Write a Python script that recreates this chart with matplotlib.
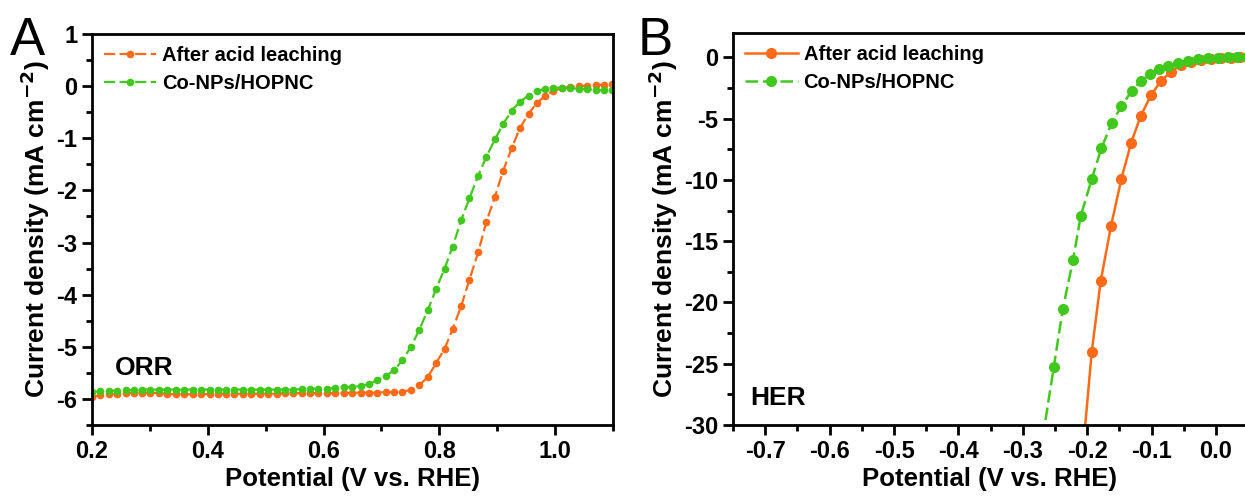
import numpy as np
import matplotlib
matplotlib.use('Agg')
import matplotlib.pyplot as plt
from matplotlib.ticker import MultipleLocator

plt.rcParams['font.family'] = ['Liberation Sans', 'DejaVu Sans']
plt.rcParams['font.weight'] = 'bold'
plt.rcParams['mathtext.default'] = 'bf'

ORANGE = '#ff6a17'
GREEN = '#41c81c'
labels = ['After acid leaching', 'Co-NPs/HOPNC']

# Panel A: ORR polarisation curves
orr_v = [0.200, 0.214, 0.229, 0.243, 0.258, 0.272, 0.287, 0.301, 0.316, 0.330,
         0.345, 0.359, 0.374, 0.388, 0.403, 0.417, 0.432, 0.446, 0.461, 0.475,
         0.490, 0.504, 0.519, 0.533, 0.548, 0.562, 0.577, 0.591, 0.606, 0.620,
         0.635, 0.649, 0.664, 0.678, 0.693, 0.707, 0.722, 0.736, 0.751, 0.765,
         0.780, 0.794, 0.809, 0.823, 0.838, 0.852, 0.867, 0.881, 0.896, 0.910,
         0.925, 0.939, 0.954, 0.968, 0.983, 0.997, 1.012, 1.026, 1.041, 1.055,
         1.070, 1.084, 1.099]
orr_acid = [-5.96, -5.93, -5.91, -5.90, -5.89, -5.88, -5.88, -5.88, -5.89, -5.90,
            -5.91, -5.91, -5.91, -5.91, -5.90, -5.90, -5.90, -5.90, -5.90, -5.90,
            -5.90, -5.90, -5.90, -5.89, -5.89, -5.89, -5.89, -5.89, -5.89, -5.89,
            -5.89, -5.88, -5.88, -5.88, -5.88, -5.87, -5.87, -5.86, -5.83, -5.74,
            -5.58, -5.32, -5.04, -4.66, -4.21, -3.71, -3.19, -2.61, -2.12, -1.63,
            -1.19, -0.81, -0.53, -0.33, -0.18, -0.09, -0.04, -0.01, 0.00, 0.01,
            0.02, 0.03, 0.04]
orr_co = [-5.87, -5.85, -5.84, -5.84, -5.83, -5.83, -5.82, -5.82, -5.82, -5.82,
          -5.82, -5.82, -5.82, -5.82, -5.82, -5.82, -5.82, -5.82, -5.82, -5.82,
          -5.82, -5.82, -5.82, -5.82, -5.82, -5.81, -5.81, -5.80, -5.80, -5.79,
          -5.78, -5.77, -5.75, -5.72, -5.64, -5.56, -5.45, -5.26, -5.00, -4.68,
          -4.30, -3.90, -3.50, -3.08, -2.56, -2.15, -1.72, -1.36, -1.02, -0.73,
          -0.47, -0.30, -0.18, -0.10, -0.05, -0.03, -0.03, -0.04, -0.05, -0.06,
          -0.07, -0.08, -0.08]

# Panel B: HER polarisation curves
her_v_acid = [-0.209, -0.193, -0.179, -0.163, -0.147, -0.132, -0.117, -0.101,
              -0.086, -0.070, -0.055, -0.039, -0.024, -0.008, 0.007, 0.023,
              0.038, 0.054]
her_acid = [-33.5, -24.03, -18.22, -13.74, -9.92, -6.99, -4.78, -3.09,
            -1.94, -1.17, -0.63, -0.36, -0.22, -0.14, -0.08, -0.03,
            0.00, 0.00]
her_v_co = [-0.269, -0.252, -0.238, -0.222, -0.210, -0.193, -0.178, -0.162,
            -0.147, -0.131, -0.117, -0.103, -0.088, -0.074, -0.059, -0.043,
            -0.028, -0.013, 0.003, 0.018, 0.033, 0.048]
her_co = [-31.0, -25.29, -20.55, -16.52, -12.92, -9.92, -7.40, -5.36,
          -3.99, -2.73, -1.94, -1.37, -0.96, -0.68, -0.44, -0.27,
          -0.16, -0.08, -0.03, 0.00, 0.00, 0.00]

fig = plt.figure(figsize=(12.45, 4.99), dpi=100)
axA = fig.add_axes([0.0739, 0.1483, 0.4185, 0.7836])
axB = fig.add_axes([0.5888, 0.1483, 0.4112, 0.7856])


def style_axes(ax):
    for s in ['left', 'bottom', 'top', 'right']:
        ax.spines[s].set_linewidth(2)
    ax.tick_params(which='major', direction='out', length=7, width=2,
                   labelsize=17, top=False, right=False)
    ax.tick_params(which='minor', direction='out', length=4, width=2,
                   top=False, right=False)
    for lab in ax.get_xticklabels() + ax.get_yticklabels():
        lab.set_fontweight('bold')
    ax.set_xlabel('Potential (V vs. RHE)', fontsize=18.5, fontweight='bold', labelpad=3)
    ax.set_ylabel('Current density (mA cm$^{-2}$)', fontsize=19, fontweight='bold', labelpad=3)


# ---- A ----
axA.plot(orr_v, orr_acid, '--', color=ORANGE, lw=1.6, marker='o', ms=4.5,
         mec=ORANGE, dashes=(5, 2), label=labels[0])
axA.plot(orr_v, orr_co, '--', color=GREEN, lw=1.6, marker='o', ms=4.5,
         mec=GREEN, dashes=(5, 2), label=labels[1])
axA.set_xlim(0.2, 1.1)
axA.set_ylim(-6.5, 1)
axA.set_xticks([0.2, 0.4, 0.6, 0.8, 1.0])
axA.set_xticklabels(['0.2', '0.4', '0.6', '0.8', '1.0'])
axA.xaxis.set_minor_locator(MultipleLocator(0.1))
axA.set_yticks([-6, -5, -4, -3, -2, -1, 0, 1])
axA.set_yticklabels(['-6', '-5', '-4', '-3', '-2', '-1', '0', '1'])
axA.yaxis.set_minor_locator(MultipleLocator(0.5))
style_axes(axA)
axA.legend(loc='upper left', frameon=False, handlelength=2.6,
           handletextpad=0.3, labelspacing=0.45, borderaxespad=0.2,
           prop={'weight': 'bold', 'size': 14.5})
axA.text(0.044, 0.145, 'ORR', transform=axA.transAxes, fontsize=19,
         fontweight='bold', va='center')
fig.text(0.008, 0.89, 'A', fontsize=38, fontweight='normal')

# ---- B ----
axB.plot(her_v_acid, her_acid, '-', color=ORANGE, lw=1.8, marker='o', ms=7,
         mec=ORANGE, label=labels[0])
axB.plot(her_v_co, her_co, '--', color=GREEN, lw=1.8, marker='o', ms=7,
         mec=GREEN, dashes=(5, 2), label=labels[1])
axB.set_xlim(-0.75, 0.045)
axB.set_ylim(-30, 2)
axB.set_xticks([-0.7, -0.6, -0.5, -0.4, -0.3, -0.2, -0.1, 0.0])
axB.set_xticklabels(['-0.7', '-0.6', '-0.5', '-0.4', '-0.3', '-0.2', '-0.1', '0.0'])
axB.xaxis.set_minor_locator(MultipleLocator(0.05))
axB.set_yticks([-30, -25, -20, -15, -10, -5, 0])
axB.set_yticklabels(['-30', '-25', '-20', '-15', '-10', '-5', '0'])
axB.yaxis.set_minor_locator(MultipleLocator(2.5))
style_axes(axB)
axB.spines['right'].set_visible(False)
axB.legend(loc='upper left', frameon=False, handlelength=2.6,
           handletextpad=0.3, labelspacing=0.45, borderaxespad=0.2,
           prop={'weight': 'bold', 'size': 14.5})
axB.text(0.033, 0.07, 'HER', transform=axB.transAxes, fontsize=19,
         fontweight='bold', va='center')
fig.text(0.512, 0.89, 'B', fontsize=38, fontweight='normal')

fig.savefig('out.png', dpi=100)
